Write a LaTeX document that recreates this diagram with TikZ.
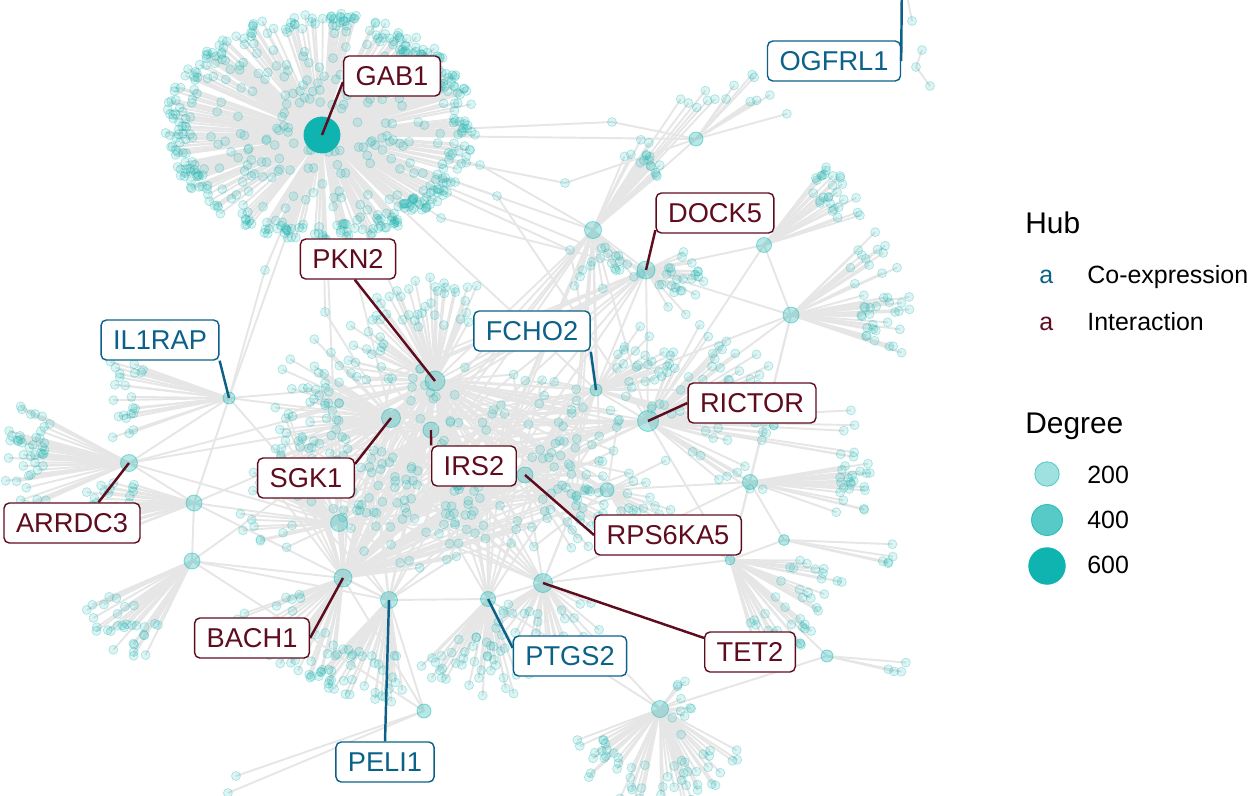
\documentclass[tikz,border=0pt]{standalone}
\usepackage{fontspec}
\setmainfont{Liberation Sans}
\usetikzlibrary{calc}
\definecolor{cteal}{HTML}{0FB4B0}
\definecolor{cedge}{HTML}{E6E6E6}
\definecolor{cred}{HTML}{5F0C1E}
\definecolor{cblue}{HTML}{0C6189}
\pgfdeclarelayer{edges}
\pgfdeclarelayer{top}
\pgfsetlayers{edges,main,top}
\tikzset{
  leaf/.style={circle, inner sep=0pt, minimum size=0.18cm, fill=cteal, fill opacity=0.14, draw=cteal, draw opacity=0.3, line width=0.4pt},
  hubnode/.style={circle, inner sep=0pt, minimum size=#1, fill=cteal, fill opacity=0.3, draw=cteal, draw opacity=0.45, line width=0.5pt},
  netedge/.style={draw=cedge, line width=1.1pt},
  taglab/.style={draw=#1, text=#1, fill=white, rounded corners=3pt, line width=0.8pt, inner xsep=0.24cm, minimum height=0.8cm, font=\fontsize{15.5}{18}\selectfont},
  intlab/.style={taglab=cred},
  coexlab/.style={taglab=cblue},
  tagline/.style={draw=#1, line width=1.4pt},
  legtitle/.style={anchor=base west, inner sep=0pt, font=\fontsize{17}{20}\selectfont},
  legtext/.style={anchor=base west, inner sep=0pt, font=\fontsize{14.2}{17}\selectfont},
}
% fans of leaves: id/hub/from angle/to angle/inner radius/outer radius/count
\newcommand{\fanlist}{f1/ha/-68/-37/80/105/16, f2/ha/-57/-47/155/180/6, f3/ha/30/110/20/75/20,
      f4/hb/-55/5/50/95/8, f5/dock5/-30/70/18/60/25, f6/hc/-55/-15/70/105/28, f7/hd/-45/20/70/120/40,
      f8/rictor/-70/40/50/135/50, f9/he/-10/20/90/122/22, f10/hf/0/15/100/112/5, f11/hg/0/75/55/115/40,
      f12/hh/-10/15/40/80/4, f13/hi/25/160/55/100/55, f14/tet2/20/150/30/75/30, f15/ptgs2/55/135/30/100/38,
      f16/peli1/80/135/55/105/35, f17/bach1/95/165/45/115/35, f18/hj/150/170/195/215/2, f19/hk/115/160/70/120/30,
      f20/hl/150/200/60/110/28, f21/arrdc3/155/210/85/125/45, f22/il1rap/160/200/90/125/22,
      f23/pkn2/180/300/55/105/50, f24/sgk1/140/230/50/120/45, f25/irs2/60/150/40/110/40,
      f26/rps6ka5/-60/60/30/100/40, f27/fcho2/-60/20/30/90/30, f28/hm/150/250/40/100/30,
      f29/ho/-30/60/25/70/15, f30/rictor/-5/10/190/210/6, f31/hi/-60/60/15/40/10}
% hubs of the tangle in the middle
\newcommand{\midhub}[1]{\ifcase#1 pkn2\or sgk1\or irs2\or rps6ka5\or fcho2\or rictor\or hm\or bach1\or peli1\or tet2\or ptgs2\or ho\or dock5\or ha\fi}

\begin{document}
\begin{tikzpicture}[x=0.02cm, y=-0.02cm]
  \useasboundingbox (0,0) rectangle (1253,795);
  \pgfmathsetseed{4}
  % hubs
  \begin{pgfonlayer}{top}
    \foreach \n/\x/\y/\s in {ha/593/230/0.34cm, hb/696/139/0.28cm, dock5/646/270/0.36cm, hc/764/245/0.3cm,
                             hd/791/315/0.32cm, fcho2/596/390/0.24cm, pkn2/435/381/0.4cm, rictor/648/421/0.42cm,
                             sgk1/391/418/0.38cm, irs2/431/430/0.32cm, il1rap/229/398/0.24cm, hl/194/503/0.32cm,
                             hk/192/561/0.32cm, arrdc3/129/463/0.34cm, hm/339/523/0.34cm, rps6ka5/525/475/0.32cm,
                             ho/607/490/0.28cm, he/750/482/0.3cm, hf/784/540/0.22cm, hg/730/560/0.2cm,
                             hh/827/656/0.24cm, hi/660/709/0.34cm, tet2/543/583/0.38cm, ptgs2/488/599/0.3cm,
                             peli1/389/600/0.34cm, bach1/343/578/0.36cm, hj/424/711/0.28cm} {
      \node[hubnode=\s] (\n) at (\x,\y) {};
    }
    \node[hubnode=0.72cm, fill opacity=1, draw opacity=1] (gab1) at (322,135) {};
  \end{pgfonlayer}
  \coordinate (ogfrl1) at (902,-30);
  % the GAB1 cloud: rim first, then the inside
  \foreach \i in {1,...,520} {
    \pgfmathsetmacro\fa{360*rnd}
    \pgfmathsetmacro\ff{\i<351 ? 0.84+0.16*rnd : 0.2+0.64*rnd}
    \node[leaf] (g-\i) at ([shift={(\fa:{156*\ff} and {115*\ff})}]321,127) {};
  }
  % the other fans
  \foreach \f/\h/\a/\b/\r/\s/\n in \fanlist {
    \foreach \i in {1,...,\n} {
      \pgfmathsetmacro\fa{\a+(\b-\a)*rnd}
      \pgfmathsetmacro\fr{\r+(\s-\r)*rnd}
      \node[leaf] (\f-\i) at ([shift={(\fa:\fr)}]\h) {};
    }
  }
  % the tangle in the middle
  \foreach \i in {1,...,140} {
    \pgfmathsetmacro\fa{360*rnd}
    \pgfmathsetmacro\ff{sqrt(rnd)}
    \node[leaf] (c-\i) at ([shift={(\fa:{190*\ff} and {105*\ff})}]450,465) {};
  }
  % stray nodes on the long links
  \foreach \n/\x/\y in {m1/480/165, m2/565/183, m3/441/218, m4/265/270, m5/325/312, m6/497/196,
                        m7/612/122, m8/570/250, o1/912/21, o2/922/50, o3/916/67, o4/930/86} {
    \node[leaf] (\n) at (\x,\y) {};
  }
  \begin{pgfonlayer}{edges}
    \foreach \i in {1,...,520} {
      \draw[netedge] (gab1.center) -- (g-\i.center);
    }
    \foreach \f/\h/\a/\b/\r/\s/\n in \fanlist {
      \foreach \i in {1,...,\n} {
        \draw[netedge] (\h.center) -- (\f-\i.center);
      }
    }
    \foreach \i in {1,...,140} {
      \pgfmathtruncatemacro\ka{mod(\i*7,14)}
      \pgfmathtruncatemacro\kb{mod(\i*5+3,14)}
      \edef\ha{\midhub{\ka}}\edef\hb{\midhub{\kb}}
      \draw[netedge] (\ha.center) -- (c-\i.center) -- (\hb.center);
    }
    \foreach \a/\b in {m1/gab1, m1/ha, m2/gab1, m2/hb, m3/gab1, m3/dock5, m4/gab1, m4/il1rap, m5/gab1, m5/sgk1,
                       m6/gab1, m6/rictor, m7/gab1, m7/hb, m8/gab1, m8/fcho2, o1/ogfrl1, o2/o3, o3/o4,
                       gab1/ha, gab1/pkn2, gab1/dock5, gab1/sgk1, gab1/il1rap, gab1/hm, gab1/fcho2, gab1/hb,
                       ha/hb, ha/dock5, ha/pkn2, ha/rictor, ha/fcho2, ha/irs2, dock5/hc, dock5/hd, dock5/rictor,
                       dock5/pkn2, dock5/sgk1, hc/hd, hd/rictor, hd/fcho2, hd/he, rictor/he, rictor/pkn2,
                       rictor/irs2, rictor/hg, rictor/rps6ka5, he/hf, he/hg, hg/hh, hh/hi, hi/tet2, hi/ptgs2,
                       tet2/rps6ka5, tet2/irs2, tet2/ptgs2, tet2/hg, ptgs2/peli1, ptgs2/irs2, peli1/bach1,
                       peli1/hj, bach1/hm, bach1/hk, bach1/sgk1, hk/hl, hl/arrdc3, arrdc3/il1rap, arrdc3/sgk1,
                       arrdc3/hm, il1rap/pkn2, il1rap/sgk1, il1rap/hl, pkn2/sgk1, pkn2/irs2, pkn2/rps6ka5,
                       pkn2/fcho2, sgk1/irs2, sgk1/hm, irs2/rps6ka5, rps6ka5/ho, ho/hg, fcho2/rps6ka5, hm/peli1,
                       hm/irs2, hj/bach1, hl/hm, hk/peli1, fcho2/he, hk/hj, hm/rps6ka5, sgk1/rps6ka5, ho/he,
                       hl/sgk1, hk/sgk1, il1rap/hm, arrdc3/pkn2, hl/peli1, hd/hg, hc/rictor, he/tet2, hf/hg} {
      \draw[netedge] (\a.center) -- (\b.center);
    }
  \end{pgfonlayer}
  % hub labels
  \begin{pgfonlayer}{top}
    \foreach \n/\x/\y/\t/\s in {gab1lab/392/76/GAB1/intlab, ogfrl1lab/834/61/OGFRL1/coexlab,
        dock5lab/715/213/DOCK5/intlab, pkn2lab/348/259/PKN2/intlab, il1raplab/160/340/IL1RAP/coexlab,
        fcho2lab/532/331/FCHO2/coexlab, rictorlab/752/403/RICTOR/intlab, sgk1lab/306/478/SGK1/intlab,
        irs2lab/474/466/IRS2/intlab, arrdc3lab/72/523/ARRDC3/intlab, rps6ka5lab/668/535/RPS6KA5/intlab,
        bach1lab/252/638/BACH1/intlab, peli1lab/385/762/PELI1/coexlab, ptgs2lab/570/656/PTGS2/coexlab,
        tet2lab/750/652/TET2/intlab} {
      \node[\s] (\n) at (\x,\y) {\t};
    }
    \foreach \p/\h/\c in {gab1lab.187/gab1/cred, ogfrl1lab.east/ogfrl1/cblue, dock5lab.196/dock5/cred,
        pkn2lab.288/pkn2/cred, il1raplab.south east/il1rap/cblue, fcho2lab.south east/fcho2/cblue,
        rictorlab.west/rictor/cred, sgk1lab.16/sgk1/cred, irs2lab.north west/irs2/cred,
        arrdc3lab.38/arrdc3/cred, rps6ka5lab.west/rps6ka5/cred, bach1lab.east/bach1/cred,
        peli1lab.north/peli1/cblue, ptgs2lab.172/ptgs2/cblue, tet2lab.163/tet2/cred} {
      \draw[tagline=\c] (\p) -- (\h.center);
    }
  \end{pgfonlayer}
  % legend
  \node[legtitle] (hubtitle) at (1025,233) {Hub};
  \node[legtext, text=cblue] (keyco) at (1039,283) {a};
  \node[legtext] (coexp) at (1087,283) {Co-expression};
  \node[legtext, text=cred] (keyint) at (1039,330) {a};
  \node[legtext] (inter) at (1087,330) {Interaction};
  \node[legtitle] (degtitle) at (1025,433) {Degree};
  \node[hubnode=0.49cm, fill opacity=0.4, draw opacity=0.6] (deg200) at (1047,474) {};
  \node[hubnode=0.62cm, fill opacity=0.7, draw opacity=0.8] (deg400) at (1047,520) {};
  \node[hubnode=0.73cm, fill opacity=1, draw opacity=1] (deg600) at (1047,566) {};
  \node[legtext] (t200) at (1087,483) {200};
  \node[legtext] (t400) at (1087,528) {400};
  \node[legtext] (t600) at (1087,573) {600};
\end{tikzpicture}
\end{document}
